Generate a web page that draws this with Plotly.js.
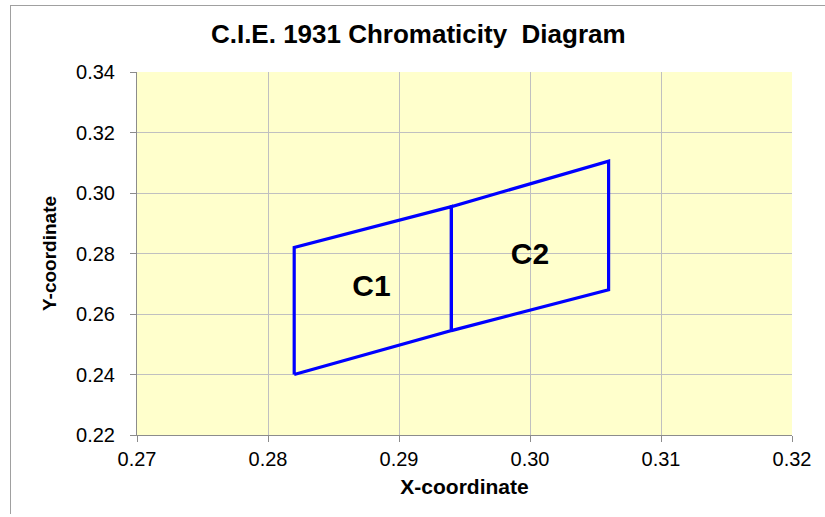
<!DOCTYPE html>
<html>
<head>
<meta charset="utf-8">
<script src="https://cdn.plot.ly/plotly-3.0.1.min.js"></script>
<style>
  html, body { margin: 0; padding: 0; background: #fff; }
  #wrap { position: relative; width: 825px; height: 517px; }
  #chart { width: 825px; height: 517px; }
  #frame { position: absolute; left: 10px; top: 5px; width: 815px; height: 508px;
           border-top: 1px solid #a0a0a0; border-left: 1px solid #a0a0a0; pointer-events: none; }
</style>
</head>
<body>
<div id="wrap">
  <div id="chart"></div>
  <div id="frame"></div>
</div>
<script>
// Quadrangle C1 corners (closed)
const c1X = [0.2820, 0.2820, 0.2940, 0.2940, 0.2820];
const c1Y = [0.2400, 0.2820, 0.2955, 0.2545, 0.2400];
// Quadrangle C2 corners (closed)
const c2X = [0.2940, 0.2940, 0.3060, 0.3060, 0.2940];
const c2Y = [0.2545, 0.2955, 0.3105, 0.2680, 0.2545];
// Region labels
const labelText = ["<b>C1</b>", "<b>C2</b>"];
const labelX = [0.2879, 0.3000];
const labelY = [0.2685, 0.2790];
// Tick labels
const xTicks = [0.27, 0.28, 0.29, 0.30, 0.31, 0.32];
const yTicks = [0.22, 0.24, 0.26, 0.28, 0.30, 0.32, 0.34];

const FONT = "Liberation Sans, Arial, sans-serif";
const lineStyle = { color: "#0000ff", width: 3.2 };
const traces = [
  { x: c1X, y: c1Y, mode: "lines", line: lineStyle, hoverinfo: "skip" },
  { x: c2X, y: c2Y, mode: "lines", line: lineStyle, hoverinfo: "skip" },
  { x: labelX, y: labelY, mode: "text", text: labelText,
    textfont: { family: FONT, size: 30, color: "#000" },
    hoverinfo: "skip" }
];

const axisCommon = {
  showgrid: true, gridcolor: "#c0c0c0", gridwidth: 1,
  showline: true, linecolor: "#8c8c8c", linewidth: 1,
  ticks: "outside", ticklen: 6, tickcolor: "#8c8c8c",
  zeroline: false, automargin: false,
  tickfont: { family: FONT, size: 20, color: "#000" }
};

const layout = {
  width: 825, height: 517,
  margin: { l: 137, r: 33, t: 72, b: 82 },
  paper_bgcolor: "#ffffff",
  plot_bgcolor: "#ffffcc",
  showlegend: false,
  title: {
    text: "<b>C.I.E. 1931 Chromaticity  Diagram</b>",
    font: { family: FONT, size: 26, color: "#000" },
    x: 0.507, xanchor: "center", y: 0.934, yanchor: "middle"
  },
  xaxis: Object.assign({}, axisCommon, {
    range: [0.27, 0.32], tickvals: xTicks, ticktext: xTicks.map(v => v.toFixed(2)),
    ticklabelstandoff: 0,
    title: { text: "<b>X-coordinate</b>", standoff: 10,
      font: { family: FONT, size: 21, color: "#000" } }
  }),
  yaxis: Object.assign({}, axisCommon, {
    range: [0.22, 0.34], tickvals: yTicks, ticktext: yTicks.map(v => v.toFixed(2)),
    ticklabelstandoff: 11,
    title: { text: "<b>Y-coordinate</b>", standoff: 14,
      font: { family: FONT, size: 19, color: "#000" } }
  })
};

Plotly.newPlot("chart", traces, layout, { staticPlot: true, displayModeBar: false });
</script>
</body>
</html>
